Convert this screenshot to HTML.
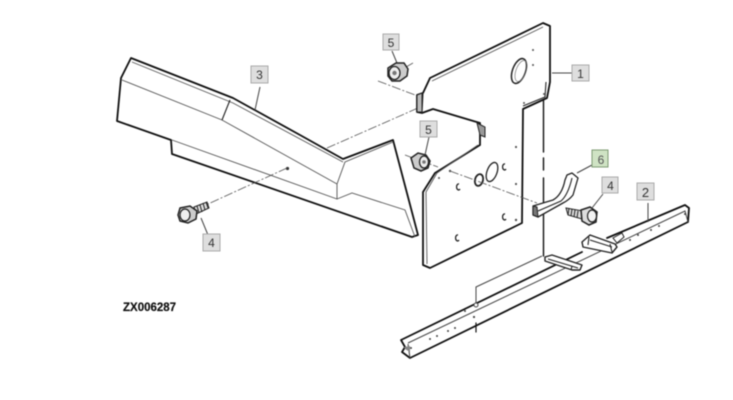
<!DOCTYPE html>
<html><head><meta charset="utf-8">
<style>
html,body{margin:0;padding:0;background:#fff;width:733px;height:400px;overflow:hidden}
svg{display:block;filter:blur(.4px)}
text{font-family:"Liberation Sans",sans-serif}
.h{fill:none;stroke:#111;stroke-width:1.800;stroke-linecap:round;stroke-linejoin:round}
.t{fill:none;stroke:#555;stroke-width:.9}
.m{fill:none;stroke:#222;stroke-width:1.100}
.d{fill:none;stroke:#555;stroke-width:.8;stroke-dasharray:9 2 2 2}
.l{fill:none;stroke:#444;stroke-width:1}
.b{fill:#dedede;stroke:#aaa;stroke-width:1}
.n{font-size:12px;fill:#333;text-anchor:middle}
</style></head><body>
<svg width="733" height="400" viewBox="0 0 733 400" xmlns="http://www.w3.org/2000/svg">
<rect width="733" height="400" fill="#fff"/>

<!-- guard (3) -->
<path class="h" d="M121,78 131,58 233,98 300,135 343,159 393,140 418,235 412,237 172,154 171,140 117,121 121,78"/>
<path class="t" d="M122,80 222,120 337,184 345,162 393,142M132,62 233,103 343,162M172,140 337,199 337,184M337,199 352,193 405,210 415,237"/>
<path class="m" d="M230,100 222,120"/>
<circle cx="287.500" cy="168.500" r="1.600" fill="#333"/>
<path class="d" d="M287,168 208,204"/>
<path class="d" d="M327,148 418,108"/>

<!-- bolt left -->
<path d="M194,207 207,202 209,208 196,214Z" fill="#ddd" stroke="#222" stroke-width="1"/>
<path stroke="#222" stroke-width="1" d="M197,206l2,7M200,205l2,7M203,203l2,7M206,202l2,6"/>
<path d="M180,208 190,206 197,211 196,219 188,223 180,221 178,215Z" fill="#ccc" stroke="#222" stroke-width="1.500"/>
<ellipse cx="185" cy="215" rx="5" ry="6" fill="#eee" stroke="#222" stroke-width="1.200"/>
<path class="l" d="M201,218 208,235"/>
<rect class="b" x="203" y="234" width="17" height="17"/>
<text class="n" x="211.500" y="247">4</text>

<!-- leader 3 -->
<path class="l" d="M260,87 255,110"/>
<rect class="b" x="251" y="66" width="17" height="17"/>
<text class="n" x="259.500" y="79">3</text>

<!-- panel (1) -->
<polygon points="543,23 550,26 550,82 547,98 523,109 522,223 430,268 423,265 423,192 435,173 480,145 480,123 433,109 422,113 417,112 417,95 423,93 430,78" fill="#fff"/>
<path class="h" d="M430,78 543,23 550,26 550,82 547,98 523,109 522,223 430,268 423,265 423,192 435,173 480,145 480,123 433,109 422,113 417,112 417,95 423,93 430,78"/>
<path class="t" d="M432,81 543,27M478,145 437,173 426,192 427,264"/>
<path class="m" d="M423,93 422,113M546,82 545,97 523,106"/>
<path d="M477,123 485,127 485,137 480,135Z" fill="#999" stroke="#222" stroke-width="1"/>
<path d="M417,95 422,93 422,112 417,112Z" fill="#bbb" stroke="#222" stroke-width="1"/>
<ellipse cx="519" cy="71" rx="6.500" ry="13" transform="rotate(20 519 71)" fill="#fff" stroke="#222" stroke-width="1.500"/>
<ellipse cx="521" cy="71" rx="5" ry="11" transform="rotate(20 521 71)" fill="none" stroke="#777" stroke-width=".7"/>
<ellipse cx="492" cy="172" rx="5" ry="10" transform="rotate(20 492 172)" fill="#fff" stroke="#222" stroke-width="1.300"/>
<ellipse cx="479" cy="180" rx="4" ry="6" transform="rotate(15 479 180)" fill="#fff" stroke="#222" stroke-width="1.800"/>
<g fill="#555">
<circle cx="533" cy="50" r="1"/><circle cx="533" cy="65" r="1"/><circle cx="544" cy="94" r="1"/><circle cx="524" cy="103" r="1"/>
<circle cx="516" cy="147" r="1.100"/><circle cx="516" cy="184" r="1.100"/><circle cx="516" cy="220" r="1.200"/><circle cx="439" cy="178" r="1"/><circle cx="450" cy="171" r="1.200"/>
</g>
<g fill="none" stroke="#222" stroke-width="1.300">
<path d="M505,164a2,3 0 1 0 1,5"/><path d="M459,184a2,3 0 1 0 1,5"/><path d="M505,214a2,3 0 1 0 1,5"/><path d="M458,235a2,3 0 1 0 1,5"/>
</g>

<!-- vertical line behind -->
<path class="h" style="stroke-width:1.400" d="M543.500,100V152M543.500,158V170M543.500,178V256"/>
<path class="l" d="M552,73H572"/>
<rect class="b" x="572" y="65" width="17" height="16"/>
<text class="n" x="580.500" y="78">1</text>

<!-- nut top -->
<path class="d" d="M378,81 415,95"/>
<path class="d" d="M413,63 406,67"/>
<path class="l" d="M392,51 397,63"/>
<path d="M388,68 396,63 404,63 408,69 407,76 400,81 392,81 388,76Z" fill="#ccc" stroke="#222" stroke-width="1.500"/>
<ellipse cx="394.500" cy="73" rx="5.500" ry="6.500" fill="#eee" stroke="#222" stroke-width="1.300"/>
<circle cx="394.500" cy="73" r="2.200" fill="#777"/>
<rect class="b" x="383" y="34" width="16" height="16"/>
<text class="n" x="391" y="47">5</text>

<!-- nut middle -->
<path class="d" d="M405,155 438,167"/>
<path class="d" d="M450,171 537,203"/>
<path class="l" d="M429,137 425,155"/>
<path d="M411,158 418,153 426,155 430,161 428,168 421,171 414,168Z" fill="#ccc" stroke="#222" stroke-width="1.500"/>
<ellipse cx="424" cy="162" rx="4.500" ry="6" fill="#eee" stroke="#222" stroke-width="1.300"/>
<circle cx="424" cy="162" r="1.800" fill="#777"/>
<rect class="b" x="420" y="121" width="17" height="16"/>
<text class="n" x="428.500" y="134">5</text>

<!-- bracket 6 -->
<path d="M533,206 553,200Q562,195 565,180L567,175 572,173 578,178 573,195Q569,200 563,203L538,217 533,215Z" fill="#fff" stroke="#222" stroke-width="1.300" stroke-linejoin="round"/>
<path class="m" d="M538,211 561,201Q568,195 572,178"/>
<path d="M533,206 537,207 538,217 533,215Z" fill="#777" stroke="#222" stroke-width="1"/>
<path class="l" d="M592,165 577,173"/>
<rect x="592" y="150" width="16" height="17" fill="#cfe3c4" stroke="#7f9b73" stroke-width="1"/>
<text class="n" x="601" y="164" style="fill:#555">6</text>

<!-- bolt right -->
<path d="M566,208 583,211 582,219 568,215Z" fill="#ddd" stroke="#222" stroke-width="1"/>
<path stroke="#222" stroke-width="1" d="M569,208l-1,7M572,209l-1,7M575,210l-1,7M578,211l-1,7"/>
<path d="M581,210 590,207 597,212 596,222 589,225 582,221Z" fill="#ddd" stroke="#222" stroke-width="1.500"/>
<ellipse cx="592" cy="216" rx="4.500" ry="6" fill="#f2f2f2" stroke="#222" stroke-width="1.200"/>
<path class="l" d="M603,194 592,208"/>
<rect class="b" x="602" y="177" width="16" height="16"/>
<text class="n" x="610.500" y="190">4</text>

<!-- rail 2 -->
<polygon points="401,340 685,205 689,208 688,222 410,358 402,352 405,347" fill="#fff"/>
<path class="h" d="M401,340 582,252M607,238 685,205 689,208 688,222 410,358 402,352 405,347 401,340"/>
<path class="m" style="stroke:#444;stroke-width:1" d="M408,343 685,211 688,222M408,344 410,358"/>
<path d="M404,347 410,346 410,352 405,349Z" fill="#888"/>
<g fill="#444">
<circle cx="685" cy="214" r="1"/><circle cx="659" cy="226" r="1"/><circle cx="651" cy="230" r="1"/><circle cx="638" cy="235" r="1"/><circle cx="630" cy="240" r="1"/>
<circle cx="474" cy="317" r="1.100"/><circle cx="465" cy="311" r="1"/><circle cx="455" cy="328" r="1"/><circle cx="448" cy="331" r="1"/><circle cx="437" cy="336" r="1"/><circle cx="430" cy="339" r="1"/>
<circle cx="411" cy="348" r="1"/>
</g>
<!-- rail brackets -->
<path d="M545,257 552,255 582,265 580,270 572,270 545,261Z" fill="#fff" stroke="#222" stroke-width="1.400" stroke-linejoin="round"/>
<path class="m" d="M548,259 578,268M572,266 571,270"/>
<path d="M582,242 590,235 615,244 617,247 612,253 583,247Z" fill="#fff" stroke="#222" stroke-width="1.400" stroke-linejoin="round"/>
<path class="m" d="M589,237 588,245M610,244 612,252M590,240 612,247"/>
<path d="M613,238 622,233 624,237 617,243Z" fill="#fff" stroke="#222" stroke-width="1"/>
<path class="l" d="M542,256 476,287V303"/>
<circle cx="476" cy="305" r="2" fill="#fff" stroke="#444" stroke-width="1"/>
<path class="h" style="stroke-width:1.200" d="M476,323V332"/>
<path class="l" d="M648,203V222"/>
<rect class="b" x="637" y="183" width="17" height="17"/>
<text class="n" x="645.500" y="197" style="font-size:13px">2</text>

<text x="123" y="311" style="font-size:11.500px;font-weight:bold;fill:#111;stroke:#111;stroke-width:.2">ZX006287</text>
</svg>
</body></html>
